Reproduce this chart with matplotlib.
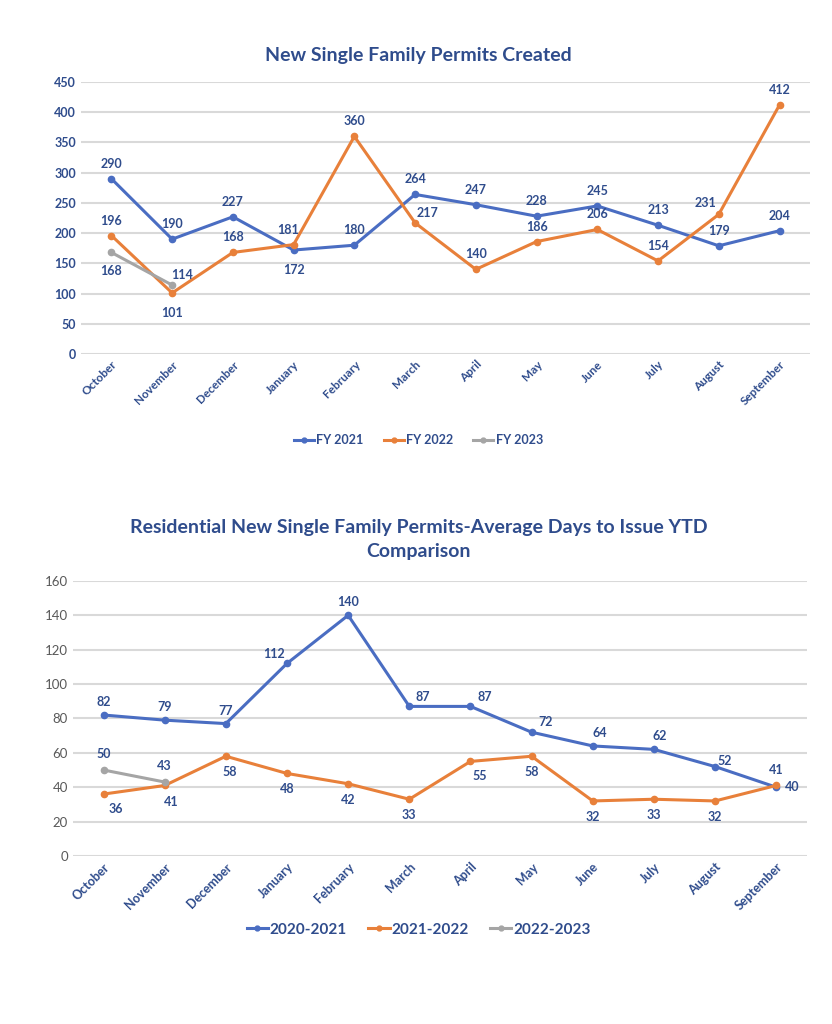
import matplotlib
matplotlib.use("Agg")
import matplotlib.pyplot as plt
import numpy as np

plt.rcParams['font.family'] = ['Lato', 'DejaVu Sans']

months = ["October", "November", "December", "January", "February", "March",
          "April", "May", "June", "July", "August", "September"]

# top chart: new single family permits created
fy2021 = [290, 190, 227, 172, 180, 264, 247, 228, 245, 213, 179, 204]
fy2022 = [196, 101, 168, 181, 360, 217, 140, 186, 206, 154, 231, 412]
fy2023 = [168, 114]

# bottom chart: average days to issue YTD
d2021 = [82, 79, 77, 112, 140, 87, 87, 72, 64, 62, 52, 40]
d2022 = [36, 41, 58, 48, 42, 33, 55, 58, 32, 33, 32, 41]
d2023 = [50, 43]

BLUE = '#4A6DC2'
ORANGE = '#E8803A'
GREY = '#A5A5A5'
TXT = '#2F4C8C'
GRID = '#D9D9D9'

# label offsets in pixels (dx, dy) per point
off_top_21 = [(0, 15)] * 12
off_top_21[3] = (0, -20)
off_top_22 = [(0, 15)] * 12
off_top_22[1] = (0, -20)
off_top_22[3] = (-6, 15)
off_top_22[5] = (12, 10)
off_top_22[10] = (-13, 11)
off_top_23 = [(0, -19), (10, 10)]

off_bot_21 = [(0, 13)] * 12
off_bot_21[3] = (-13, 9)
off_bot_21[5] = (13, 9)
off_bot_21[6] = (14, 9)
off_bot_21[7] = (14, 10)
off_bot_21[8] = (7, 13)
off_bot_21[9] = (6, 13)
off_bot_21[10] = (10, 6)
off_bot_21[11] = (16, 0)
off_bot_22 = [(0, -16)] * 12
off_bot_22[0] = (12, -15)
off_bot_22[1] = (7, -17)
off_bot_22[2] = (4, -16)
off_bot_22[6] = (9, -15)
off_bot_22[11] = (0, 15)
off_bot_23 = [(0, 16), (0, 16)]


def draw(ax, series, colors, offsets, ymax, ystep, ytick_style, xfs):
    x = np.arange(len(months))
    for vals, c, offs in zip(series, colors, offsets):
        xs = x[:len(vals)]
        ax.plot(xs, vals, color=c, lw=2.2, marker='o', ms=4.5, zorder=3)
        for xi, v, (dx, dy) in zip(xs, vals, offs):
            ax.annotate(str(v), (xi, v), xytext=(dx, dy), textcoords='offset pixels',
                        ha='center', va='center', fontsize=9, fontweight='bold',
                        color=TXT, zorder=4)
    ax.set_xlim(-0.5, len(months) - 0.5)
    ax.set_ylim(0, ymax)
    ax.set_yticks(np.arange(0, ymax + 1, ystep))
    ax.grid(axis='y', color=GRID, lw=1.5)
    ax.set_axisbelow(True)
    for s in ax.spines.values():
        s.set_visible(False)
    ax.tick_params(length=0)
    ax.set_xticks(x)
    ax.set_xticklabels(months, rotation=45, ha='right', rotation_mode='anchor',
                       fontsize=xfs, fontweight='bold', color=TXT)
    for lab in ax.get_yticklabels():
        lab.update(ytick_style)


fig = plt.figure(figsize=(8.32, 10.24), dpi=100)

ax1 = fig.add_axes([0.0974, 0.6543, 0.876, 0.2656])
draw(ax1, [fy2021, fy2022, fy2023], [BLUE, ORANGE, GREY],
     [off_top_21, off_top_22, off_top_23], 450, 50,
     dict(fontsize=9, fontweight='bold', color=TXT), 8.5)
fig.text(0.503, 0.946, "New Single Family Permits Created", ha='center', va='center',
         fontsize=14, fontweight='bold', color=TXT)

ax2 = fig.add_axes([0.0877, 0.1641, 0.882, 0.2686])
draw(ax2, [d2021, d2022, d2023], [BLUE, ORANGE, GREY],
     [off_bot_21, off_bot_22, off_bot_23], 160, 20,
     dict(fontsize=9.5, color='#595959'), 9)
fig.text(0.503, 0.473, "Residential New Single Family Permits-Average Days to Issue YTD\nComparison",
         ha='center', va='center', fontsize=14, fontweight='bold', color=TXT,
         linespacing=1.45)

h1 = [plt.Line2D([], [], color=c, lw=2.2, marker='o', ms=3.5) for c in (BLUE, ORANGE, GREY)]
fig.legend(h1, ["FY 2021", "FY 2022", "FY 2023"], loc='center', ncol=3,
           bbox_to_anchor=(0.503, 0.570), frameon=False, handlelength=1.6,
           columnspacing=1.6, handletextpad=0.2,
           prop=dict(size=9, weight='bold'), labelcolor=TXT)
fig.legend(h1, ["2020-2021", "2021-2022", "2022-2023"], loc='center', ncol=3,
           bbox_to_anchor=(0.503, 0.092), frameon=False, handlelength=1.4,
           columnspacing=1.4, handletextpad=0.1,
           prop=dict(size=11, weight='bold'), labelcolor=TXT)

fig.savefig("out.png", dpi=100, facecolor='white')
